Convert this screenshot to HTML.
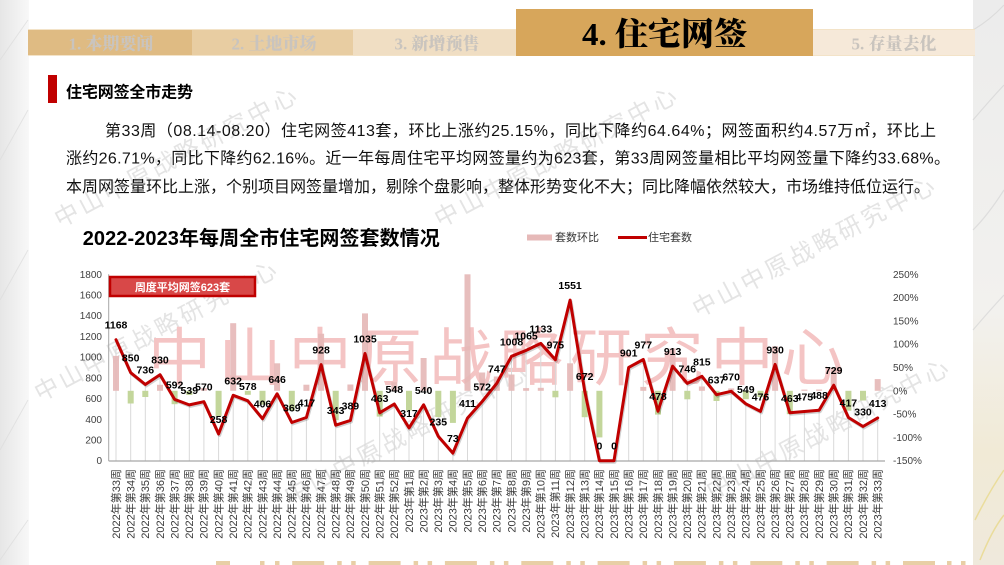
<!DOCTYPE html>
<html><head><meta charset="utf-8">
<style>
html,body{margin:0;padding:0;background:#fff;width:1004px;height:565px;overflow:hidden}
svg{display:block}
.s{font-family:"Liberation Sans","Noto Sans CJK SC",sans-serif}
.sf{font-family:"Liberation Serif","Noto Serif CJK SC",serif;font-weight:900}
</style></head>
<body>
<svg width="1004" height="565" viewBox="0 0 1004 565" xmlns="http://www.w3.org/2000/svg">
<defs>
<linearGradient id="lg" x1="0" y1="0" x2="1" y2="0">
<stop offset="0" stop-color="#e6e6e6"/><stop offset="0.6" stop-color="#f1f1f1"/><stop offset="1" stop-color="#f8f8f8"/>
</linearGradient>
<linearGradient id="rg" x1="0" y1="0" x2="0" y2="1">
<stop offset="0" stop-color="#ececec"/><stop offset="0.55" stop-color="#f2f1ee"/><stop offset="0.8" stop-color="#f1ead6"/><stop offset="1" stop-color="#efe9dc"/>
</linearGradient>
</defs>
<rect x="0" y="0" width="1004" height="565" fill="#fff"/>
<!-- side textures -->
<rect x="0" y="0" width="29" height="565" fill="url(#lg)"/>
<g stroke="#dcdcdc" stroke-width="1" opacity="0.7">
<line x1="0" y1="60" x2="28" y2="20"/><line x1="0" y1="160" x2="28" y2="110"/><line x1="0" y1="300" x2="28" y2="250"/><line x1="0" y1="450" x2="28" y2="400"/><line x1="0" y1="560" x2="28" y2="520"/>
</g>
<rect x="973" y="0" width="31" height="565" fill="url(#rg)"/>
<g stroke="#d8d8d8" stroke-width="1.2" opacity="0.8" fill="none">
<path d="M973 30 Q990 20 1004 5"/><path d="M973 120 Q990 100 1004 85"/><path d="M973 230 Q988 215 1004 190"/><path d="M973 330 Q990 310 1004 295"/>
</g>
<g stroke="#e9d98c" stroke-width="1.5" opacity="0.8" fill="none">
<path d="M975 520 Q990 490 1004 470"/><path d="M980 560 Q992 530 1004 515"/>
</g>

<!-- gray diagonal watermarks -->
<g class="s" font-size="24" fill="#e4e4e4">
<text transform="translate(60,228) rotate(-28)" textLength="270" lengthAdjust="spacing">中山中原战略研究中心</text>
<text transform="translate(440,228) rotate(-28)" textLength="270" lengthAdjust="spacing">中山中原战略研究中心</text>
<text transform="translate(698,318) rotate(-28)" textLength="270" lengthAdjust="spacing">中山中原战略研究中心</text>
<text transform="translate(40,402) rotate(-28)" textLength="270" lengthAdjust="spacing">中山中原战略研究中心</text>
<text transform="translate(290,505) rotate(-28)" textLength="270" lengthAdjust="spacing">中山中原战略研究中心</text>
<text transform="translate(712,500) rotate(-28)" textLength="270" lengthAdjust="spacing">中山中原战略研究中心</text>
</g>
<!-- big pink watermark -->
<text class="s" x="148" y="380" font-size="63" fill="#f4c4c4" textLength="696" lengthAdjust="spacing">中山中原战略研究中心</text>

<!-- header tabs -->
<rect x="28" y="29" width="164" height="27" fill="#dfbb83"/>
<rect x="192" y="29" width="161" height="27" fill="#e8cda2"/>
<rect x="353" y="29" width="163" height="27" fill="#f0dec3"/>
<rect x="813" y="29" width="162" height="27" fill="#f6e9d9"/>
<g stroke="#f3e3c8" stroke-width="1"><line x1="28" y1="29.5" x2="975" y2="29.5"/><line x1="28" y1="55.5" x2="975" y2="55.5"/></g>
<rect x="516" y="9" width="297" height="47" fill="#d7a65b"/>
<g class="sf" font-size="17" fill="#c9c4be" text-anchor="middle">
<text x="111" y="49.5">1. 本期要闻</text>
<text x="274" y="49.5">2. 土地市场</text>
<text x="437" y="49.5">3. 新增预售</text>
<text x="894" y="49.5">5. 存量去化</text>
</g>
<text class="sf" x="582" y="45" font-size="32" fill="#000" textLength="165" lengthAdjust="spacingAndGlyphs">4. 住宅网签</text>

<!-- section title -->
<rect x="48" y="75" width="9" height="28" fill="#c00000"/>
<text class="s" x="66" y="97.5" font-size="16" font-weight="bold" fill="#000" textLength="127" lengthAdjust="spacing">住宅网签全市走势</text>

<!-- paragraph -->
<g class="s" font-size="16" fill="#111">
<text x="105" y="136" textLength="831" lengthAdjust="spacing">第33周（08.14-08.20）住宅网签413套，环比上涨约25.15%，同比下降约64.64%；网签面积约4.57万㎡，环比上</text>
<text x="66" y="163.5" textLength="884" lengthAdjust="spacing">涨约26.71%，同比下降约62.16%。近一年每周住宅平均网签量约为623套，第33周网签量相比平均网签量下降约33.68%。</text>
<text x="66" y="192" textLength="864" lengthAdjust="spacing">本周网签量环比上涨，个别项目网签量增加，剔除个盘影响，整体形势变化不大；同比降幅依然较大，市场维持低位运行。</text>
</g>

<!-- chart title + legend -->
<text class="s" x="82.7" y="245" font-size="20" font-weight="bold" fill="#000" textLength="357" lengthAdjust="spacing">2022-2023年每周全市住宅网签套数情况</text>
<rect x="527" y="234.5" width="25" height="6" fill="#e6b9b8"/>
<text class="s" x="555" y="241" font-size="11" fill="#333">套数环比</text>
<line x1="618" y1="237.5" x2="647" y2="237.5" stroke="#c00000" stroke-width="3"/>
<text class="s" x="648" y="241" font-size="11" fill="#333">住宅套数</text>

<!-- drop lines -->
<path fill="none" stroke="#d9d9d9" stroke-width="1" d="M116.0 339.7V460.7M130.7 372.7V460.7M145.3 384.5V460.7M160.0 374.7V460.7M174.6 399.4V460.7M189.3 404.9V460.7M203.9 401.7V460.7M218.6 434.0V460.7M233.2 395.3V460.7M247.8 400.8V460.7M262.5 418.7V460.7M277.1 393.8V460.7M291.8 422.5V460.7M306.4 417.5V460.7M321.1 364.6V460.7M335.7 425.2V460.7M350.4 420.4V460.7M365.0 353.5V460.7M379.7 412.8V460.7M394.3 404.0V460.7M409.0 427.9V460.7M423.6 404.8V460.7M438.3 436.4V460.7M452.9 453.1V460.7M467.5 418.1V460.7M482.2 401.5V460.7M496.8 383.3V460.7M511.5 356.3V460.7M526.1 350.4V460.7M540.8 343.4V460.7M555.4 359.7V460.7M570.1 300.1V460.7M584.7 391.1V460.7M628.7 367.4V460.7M643.3 359.5V460.7M658.0 411.2V460.7M672.6 366.2V460.7M687.3 383.4V460.7M701.9 376.3V460.7M716.5 394.7V460.7M731.2 391.3V460.7M745.8 403.8V460.7M760.5 411.4V460.7M775.1 364.4V460.7M789.8 412.8V460.7M804.4 411.5V460.7M819.1 410.2V460.7M833.7 385.2V460.7M848.4 417.5V460.7M863.0 426.5V460.7M877.7 417.9V460.7"/>

<!-- positive bars -->
<g fill="#e6b9b8" opacity="0.92">
<rect x="113.0" y="355.9" width="6" height="34.9"/>
<rect x="157.0" y="384.8" width="6" height="6.0"/>
<rect x="200.9" y="388.1" width="6" height="2.7"/>
<rect x="230.2" y="323.2" width="6" height="67.6"/>
<rect x="274.1" y="363.3" width="6" height="27.5"/>
<rect x="303.4" y="384.7" width="6" height="6.1"/>
<rect x="318.1" y="333.7" width="6" height="57.1"/>
<rect x="347.4" y="384.5" width="6" height="6.3"/>
<rect x="362.0" y="313.4" width="6" height="77.4"/>
<rect x="391.3" y="382.2" width="6" height="8.6"/>
<rect x="420.6" y="358.0" width="6" height="32.8"/>
<rect x="464.5" y="274.3" width="6" height="116.5"/>
<rect x="479.2" y="372.5" width="6" height="18.3"/>
<rect x="493.8" y="376.5" width="6" height="14.3"/>
<rect x="508.5" y="374.5" width="6" height="16.3"/>
<rect x="523.1" y="388.1" width="6" height="2.7"/>
<rect x="537.8" y="387.8" width="6" height="3.0"/>
<rect x="567.1" y="363.3" width="6" height="27.5"/>
<rect x="640.3" y="386.9" width="6" height="3.9"/>
<rect x="669.6" y="348.4" width="6" height="42.4"/>
<rect x="698.9" y="386.5" width="6" height="4.3"/>
<rect x="728.2" y="388.4" width="6" height="2.4"/>
<rect x="772.1" y="346.3" width="6" height="44.5"/>
<rect x="801.4" y="389.6" width="6" height="1.2"/>
<rect x="816.1" y="389.5" width="6" height="1.3"/>
<rect x="830.7" y="367.8" width="6" height="23.0"/>
<rect x="874.7" y="379.1" width="6" height="11.7"/>
</g>
<!-- negative bars -->
<g fill="#c3d69b">
<rect x="127.7" y="390.8" width="6" height="12.7"/>
<rect x="142.3" y="390.8" width="6" height="6.2"/>
<rect x="171.6" y="390.8" width="6" height="13.4"/>
<rect x="186.3" y="390.8" width="6" height="4.2"/>
<rect x="215.6" y="390.8" width="6" height="25.5"/>
<rect x="244.8" y="390.8" width="6" height="4.0"/>
<rect x="259.5" y="390.8" width="6" height="13.9"/>
<rect x="288.8" y="390.8" width="6" height="20.0"/>
<rect x="332.7" y="390.8" width="6" height="29.4"/>
<rect x="376.7" y="390.8" width="6" height="25.8"/>
<rect x="406.0" y="390.8" width="6" height="19.7"/>
<rect x="435.3" y="390.8" width="6" height="26.3"/>
<rect x="449.9" y="390.8" width="6" height="32.1"/>
<rect x="552.4" y="390.8" width="6" height="6.5"/>
<rect x="581.7" y="390.8" width="6" height="26.4"/>
<rect x="596.4" y="390.8" width="6" height="46.6"/>
<rect x="655.0" y="390.8" width="6" height="23.8"/>
<rect x="684.3" y="390.8" width="6" height="8.5"/>
<rect x="713.5" y="390.8" width="6" height="10.2"/>
<rect x="742.8" y="390.8" width="6" height="8.4"/>
<rect x="757.5" y="390.8" width="6" height="6.2"/>
<rect x="786.8" y="390.8" width="6" height="23.4"/>
<rect x="845.4" y="390.8" width="6" height="19.9"/>
<rect x="860.0" y="390.8" width="6" height="9.7"/>
</g>

<!-- axes -->
<line x1="108.7" y1="274.3" x2="108.7" y2="461" stroke="#a6a6a6" stroke-width="1"/>
<line x1="108.7" y1="461" x2="885" y2="461" stroke="#a6a6a6" stroke-width="1.2"/>

<!-- left axis labels -->
<g class="s" font-size="10" fill="#404040" text-anchor="end">
<text x="102" y="277.8">1800</text><text x="102" y="298.5">1600</text><text x="102" y="319.2">1400</text><text x="102" y="339.9">1200</text><text x="102" y="360.6">1000</text><text x="102" y="381.4">800</text><text x="102" y="402.1">600</text><text x="102" y="422.8">400</text><text x="102" y="443.5">200</text><text x="102" y="464.2">0</text>
</g>
<!-- right axis labels -->
<g class="s" font-size="10" fill="#404040">
<text x="893" y="277.8">250%</text><text x="893" y="301.1">200%</text><text x="893" y="324.4">150%</text><text x="893" y="347.7">100%</text><text x="893" y="371.0">50%</text><text x="893" y="394.3">0%</text><text x="893" y="417.6">-50%</text><text x="893" y="440.9">-100%</text><text x="893" y="464.2">-150%</text>
</g>

<!-- line series -->
<polyline fill="none" stroke="#000" stroke-opacity="0.18" stroke-width="3" stroke-linejoin="round" transform="translate(1,1.5)" points="116.0,339.7 130.7,372.7 145.3,384.5 160.0,374.7 174.6,399.4 189.3,404.9 203.9,401.7 218.6,434.0 233.2,395.3 247.8,400.8 262.5,418.7 277.1,393.8 291.8,422.5 306.4,417.5 321.1,364.6 335.7,425.2 350.4,420.4 365.0,353.5 379.7,412.8 394.3,404.0 409.0,427.9 423.6,404.8 438.3,436.4 452.9,453.1 467.5,418.1 482.2,401.5 496.8,383.3 511.5,356.3 526.1,350.4 540.8,343.4 555.4,359.7 570.1,300.1 584.7,391.1 599.4,460.7 614.0,460.7 628.7,367.4 643.3,359.5 658.0,411.2 672.6,366.2 687.3,383.4 701.9,376.3 716.5,394.7 731.2,391.3 745.8,403.8 760.5,411.4 775.1,364.4 789.8,412.8 804.4,411.5 819.1,410.2 833.7,385.2 848.4,417.5 863.0,426.5 877.7,417.9"/>
<polyline fill="none" stroke="#c00000" stroke-width="3" stroke-linejoin="round" stroke-linecap="round" points="116.0,339.7 130.7,372.7 145.3,384.5 160.0,374.7 174.6,399.4 189.3,404.9 203.9,401.7 218.6,434.0 233.2,395.3 247.8,400.8 262.5,418.7 277.1,393.8 291.8,422.5 306.4,417.5 321.1,364.6 335.7,425.2 350.4,420.4 365.0,353.5 379.7,412.8 394.3,404.0 409.0,427.9 423.6,404.8 438.3,436.4 452.9,453.1 467.5,418.1 482.2,401.5 496.8,383.3 511.5,356.3 526.1,350.4 540.8,343.4 555.4,359.7 570.1,300.1 584.7,391.1 599.4,460.7 614.0,460.7 628.7,367.4 643.3,359.5 658.0,411.2 672.6,366.2 687.3,383.4 701.9,376.3 716.5,394.7 731.2,391.3 745.8,403.8 760.5,411.4 775.1,364.4 789.8,412.8 804.4,411.5 819.1,410.2 833.7,385.2 848.4,417.5 863.0,426.5 877.7,417.9"/>

<!-- data labels -->
<g class="s" font-size="10.5" font-weight="bold" fill="#000" text-anchor="middle">
<text x="116.0" y="328.7">1168</text><text x="130.7" y="361.7">850</text><text x="145.3" y="373.5">736</text><text x="160.0" y="363.7">830</text><text x="174.6" y="388.4">592</text><text x="189.3" y="393.9">539</text><text x="203.9" y="390.7">570</text><text x="218.6" y="423.0">258</text><text x="233.2" y="384.3">632</text><text x="247.8" y="389.8">578</text><text x="262.5" y="407.7">406</text><text x="277.1" y="382.8">646</text><text x="291.8" y="411.5">369</text><text x="306.4" y="406.5">417</text><text x="321.1" y="353.6">928</text><text x="335.7" y="414.2">343</text><text x="350.4" y="409.4">389</text><text x="365.0" y="342.5">1035</text><text x="379.7" y="401.8">463</text><text x="394.3" y="393.0">548</text><text x="409.0" y="416.9">317</text><text x="423.6" y="393.8">540</text><text x="438.3" y="425.4">235</text><text x="452.9" y="442.1">73</text><text x="467.5" y="407.1">411</text><text x="482.2" y="390.5">572</text><text x="496.8" y="372.3">747</text><text x="511.5" y="345.3">1008</text><text x="526.1" y="339.4">1065</text><text x="540.8" y="332.4">1133</text><text x="555.4" y="348.7">975</text><text x="570.1" y="289.1">1551</text><text x="584.7" y="380.1">672</text><text x="599.4" y="449.7">0</text><text x="614.0" y="449.7">0</text><text x="628.7" y="356.4">901</text><text x="643.3" y="348.5">977</text><text x="658.0" y="400.2">478</text><text x="672.6" y="355.2">913</text><text x="687.3" y="372.4">746</text><text x="701.9" y="365.3">815</text><text x="716.5" y="383.7">637</text><text x="731.2" y="380.3">670</text><text x="745.8" y="392.8">549</text><text x="760.5" y="400.4">476</text><text x="775.1" y="353.4">930</text><text x="789.8" y="401.8">463</text><text x="804.4" y="400.5">475</text><text x="819.1" y="399.2">488</text><text x="833.7" y="374.2">729</text><text x="848.4" y="406.5">417</text><text x="863.0" y="415.5">330</text><text x="877.7" y="406.9">413</text>
</g>

<!-- average box -->
<rect x="110" y="277" width="145" height="19" fill="#d84848" stroke="#c00000" stroke-width="2.5"/>
<text class="s" x="182.5" y="291" font-size="11" font-weight="bold" fill="#fff" text-anchor="middle">周度平均网签623套</text>

<!-- x labels -->
<g class="s" font-size="11" fill="#3a3a3a" text-anchor="end">
<text transform="translate(119.8,469) rotate(-90)">2022年第33周</text>
<text transform="translate(134.5,469) rotate(-90)">2022年第34周</text>
<text transform="translate(149.1,469) rotate(-90)">2022年第35周</text>
<text transform="translate(163.8,469) rotate(-90)">2022年第36周</text>
<text transform="translate(178.4,469) rotate(-90)">2022年第37周</text>
<text transform="translate(193.1,469) rotate(-90)">2022年第38周</text>
<text transform="translate(207.7,469) rotate(-90)">2022年第39周</text>
<text transform="translate(222.4,469) rotate(-90)">2022年第40周</text>
<text transform="translate(237.0,469) rotate(-90)">2022年第41周</text>
<text transform="translate(251.6,469) rotate(-90)">2022年第42周</text>
<text transform="translate(266.3,469) rotate(-90)">2022年第43周</text>
<text transform="translate(280.9,469) rotate(-90)">2022年第44周</text>
<text transform="translate(295.6,469) rotate(-90)">2022年第45周</text>
<text transform="translate(310.2,469) rotate(-90)">2022年第46周</text>
<text transform="translate(324.9,469) rotate(-90)">2022年第47周</text>
<text transform="translate(339.5,469) rotate(-90)">2022年第48周</text>
<text transform="translate(354.2,469) rotate(-90)">2022年第49周</text>
<text transform="translate(368.8,469) rotate(-90)">2022年第50周</text>
<text transform="translate(383.5,469) rotate(-90)">2022年第51周</text>
<text transform="translate(398.1,469) rotate(-90)">2022年第52周</text>
<text transform="translate(412.8,469) rotate(-90)">2023年第1周</text>
<text transform="translate(427.4,469) rotate(-90)">2023年第2周</text>
<text transform="translate(442.1,469) rotate(-90)">2023年第3周</text>
<text transform="translate(456.7,469) rotate(-90)">2023年第4周</text>
<text transform="translate(471.3,469) rotate(-90)">2023年第5周</text>
<text transform="translate(486.0,469) rotate(-90)">2023年第6周</text>
<text transform="translate(500.6,469) rotate(-90)">2023年第7周</text>
<text transform="translate(515.3,469) rotate(-90)">2023年第8周</text>
<text transform="translate(529.9,469) rotate(-90)">2023年第9周</text>
<text transform="translate(544.6,469) rotate(-90)">2023年第10周</text>
<text transform="translate(559.2,469) rotate(-90)">2023年第11周</text>
<text transform="translate(573.9,469) rotate(-90)">2023年第12周</text>
<text transform="translate(588.5,469) rotate(-90)">2023年第13周</text>
<text transform="translate(603.2,469) rotate(-90)">2023年第14周</text>
<text transform="translate(617.8,469) rotate(-90)">2023年第15周</text>
<text transform="translate(632.5,469) rotate(-90)">2023年第16周</text>
<text transform="translate(647.1,469) rotate(-90)">2023年第17周</text>
<text transform="translate(661.8,469) rotate(-90)">2023年第18周</text>
<text transform="translate(676.4,469) rotate(-90)">2023年第19周</text>
<text transform="translate(691.1,469) rotate(-90)">2023年第20周</text>
<text transform="translate(705.7,469) rotate(-90)">2023年第21周</text>
<text transform="translate(720.3,469) rotate(-90)">2023年第22周</text>
<text transform="translate(735.0,469) rotate(-90)">2023年第23周</text>
<text transform="translate(749.6,469) rotate(-90)">2023年第24周</text>
<text transform="translate(764.3,469) rotate(-90)">2023年第25周</text>
<text transform="translate(778.9,469) rotate(-90)">2023年第26周</text>
<text transform="translate(793.6,469) rotate(-90)">2023年第27周</text>
<text transform="translate(808.2,469) rotate(-90)">2023年第28周</text>
<text transform="translate(822.9,469) rotate(-90)">2023年第29周</text>
<text transform="translate(837.5,469) rotate(-90)">2023年第30周</text>
<text transform="translate(852.2,469) rotate(-90)">2023年第31周</text>
<text transform="translate(866.8,469) rotate(-90)">2023年第32周</text>
<text transform="translate(881.5,469) rotate(-90)">2023年第33周</text>
</g>

<!-- bottom decorative pattern -->
<g fill="#e8cfa6">
<rect x="216" y="561" width="14" height="4"/><rect x="260" y="561" width="4.5" height="4"/><rect x="275" y="561" width="4.5" height="4"/>
<rect x="292.2" y="561" width="32" height="4"/><rect x="337.2" y="561" width="4.5" height="4"/><rect x="351.2" y="561" width="4.5" height="4"/>
<rect x="368.6" y="561" width="32" height="4"/><rect x="413.6" y="561" width="4.5" height="4"/><rect x="427.6" y="561" width="4.5" height="4"/>
<rect x="444.9" y="561" width="32" height="4"/><rect x="489.9" y="561" width="4.5" height="4"/><rect x="503.9" y="561" width="4.5" height="4"/>
<rect x="521.3" y="561" width="32" height="4"/><rect x="566.3" y="561" width="4.5" height="4"/><rect x="580.3" y="561" width="4.5" height="4"/>
<rect x="597.6" y="561" width="32" height="4"/><rect x="642.6" y="561" width="4.5" height="4"/><rect x="656.6" y="561" width="4.5" height="4"/>
<rect x="673.9" y="561" width="32" height="4"/><rect x="718.9" y="561" width="4.5" height="4"/><rect x="732.9" y="561" width="4.5" height="4"/>
<rect x="750.3" y="561" width="32" height="4"/><rect x="795.3" y="561" width="4.5" height="4"/><rect x="809.3" y="561" width="4.5" height="4"/>
<rect x="826.6" y="561" width="32" height="4"/><rect x="871.6" y="561" width="4.5" height="4"/><rect x="885.6" y="561" width="4.5" height="4"/>
<rect x="903.0" y="561" width="32" height="4"/><rect x="947.0" y="561" width="4.5" height="4"/><rect x="961.0" y="561" width="4.5" height="4"/>
</g>
</svg>
</body></html>
